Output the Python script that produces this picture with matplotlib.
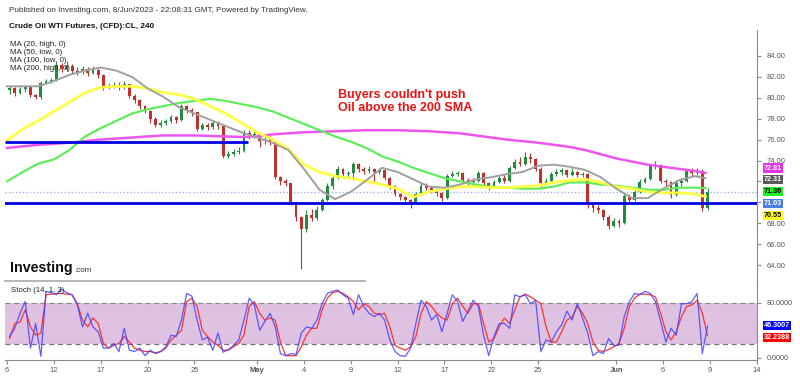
import matplotlib
matplotlib.use('Agg')
import matplotlib.pyplot as plt
import numpy as np
from matplotlib.transforms import blended_transform_factory

plt.rcParams['font.family'] = ['Liberation Sans', 'DejaVu Sans']

# ---------------- data ----------------
bars_per_day = 3
first_open = 80.7
closes = [
    80.9, 80.5, 80.8,  81.0, 80.3, 80.1,  81.4, 81.6, 81.7,  83.1, 82.8, 83.0,
    82.6, 82.5, 82.8,  82.4, 82.7, 82.2,  81.0, 81.1, 81.2,  81.0, 81.3, 80.2,
    79.8, 79.2, 78.7,  78.0, 77.4, 77.6,  77.8, 78.2, 77.9,  79.2, 78.8, 78.6,
    77.0, 77.4, 77.2,  77.6, 77.3, 74.4,  74.6, 74.8, 74.9,  76.6, 76.4, 76.5,
    75.9, 76.1, 75.8,  72.4, 72.0, 71.8,  70.0, 68.6, 67.4,  68.8, 68.5, 69.3,
    70.2, 71.6, 72.3,  73.2, 72.7, 72.8,  73.7, 73.2, 73.0,  73.2, 72.9, 73.1,
    72.3, 71.6, 70.8,  70.5, 70.2, 69.9,  70.8, 71.6, 71.4,  71.2, 70.9, 70.4,
    72.5, 72.7, 72.8,  72.1, 71.9, 72.0,  72.8, 71.8, 71.5,  71.9, 72.3, 72.0,
    73.3, 73.9, 73.7,  74.3, 74.1, 73.2,  71.8, 72.0, 72.7,  72.9, 73.1, 72.6,
    72.9, 72.6, 72.7,  69.8, 69.5, 69.3,  68.6, 67.7, 68.2,  68.0, 70.6, 70.2,
    71.0, 71.9, 72.2,  73.5, 73.6, 72.0,  71.9, 70.7, 71.8,  72.0, 73.0, 72.8,
    73.0, 69.5, 71.03]
highs = [
    81.1, 81.0, 81.0,  81.2, 81.0, 80.4,  81.6, 81.8, 81.9,  83.4, 83.3, 83.5,
    83.2, 82.9, 83.0,  82.9, 83.0, 82.8,  82.3, 81.4, 81.5,  81.5, 81.6, 81.3,
    80.4, 79.9, 79.3,  78.8, 78.2, 77.9,  78.0, 78.4, 78.3,  79.4, 79.3, 79.0,
    78.6, 77.6, 77.6,  77.9, 77.8, 77.4,  74.9, 75.1, 75.3,  76.9, 76.9, 76.8,
    76.5, 76.4, 76.3,  75.9, 72.5, 72.2,  71.8, 70.0, 68.7,  69.3, 69.4, 69.6,
    70.4, 71.8, 72.5,  73.5, 73.3, 73.0,  73.9, 73.8, 73.4,  73.5, 73.3, 73.3,
    73.2, 72.4, 71.7,  70.9, 70.6, 70.3,  71.0, 71.8, 71.8,  71.6, 71.4, 71.0,
    72.7, 73.0, 73.0,  72.9, 72.3, 72.3,  73.0, 72.9, 71.9,  72.1, 72.5, 72.6,
    73.5, 74.1, 74.3,  74.8, 74.7, 74.2,  73.4, 72.3, 72.9,  73.2, 73.3, 73.2,
    73.3, 73.0, 72.9,  72.8, 69.9, 69.7,  69.4, 68.8, 68.5,  68.4, 70.8, 70.8,
    71.2, 72.2, 72.4,  73.7, 74.0, 73.7,  72.2, 72.0, 72.1,  72.3, 73.2, 73.3,
    73.3, 73.2, 71.4]
lows = [
    80.4, 80.2, 80.4,  80.6, 80.1, 79.9,  79.9, 81.3, 81.4,  81.6, 82.5, 82.6,
    82.4, 82.2, 82.3,  82.1, 82.3, 81.9,  80.7, 80.8, 80.9,  80.7, 80.8, 80.0,
    79.5, 78.9, 78.5,  77.6, 77.2, 77.2,  77.4, 77.6, 77.6,  77.8, 78.5, 78.3,
    76.8, 76.9, 76.9,  77.0, 77.0, 74.2,  74.2, 74.4, 74.6,  74.8, 76.1, 76.2,
    75.3, 75.6, 75.5,  72.2, 71.7, 71.6,  69.7, 68.2, 63.6,  67.2, 68.2, 68.3,
    69.2, 70.1, 71.3,  72.2, 72.5, 72.4,  72.1, 72.9, 72.7,  72.8, 71.8, 72.7,
    72.1, 71.3, 70.6,  70.2, 70.0, 69.5,  69.8, 70.7, 71.2,  70.9, 70.6, 70.1,
    70.3, 72.4, 72.5,  71.9, 71.7, 71.7,  71.9, 71.6, 71.2,  71.4, 71.8, 71.8,
    71.9, 73.2, 73.5,  73.6, 73.8, 73.0,  71.5, 71.7, 71.9,  72.5, 72.6, 72.4,
    72.5, 72.4, 72.4,  69.5, 69.1, 69.0,  68.3, 67.4, 67.6,  67.6, 67.9, 70.0,
    70.1, 70.9, 71.8,  72.1, 73.2, 71.8,  71.6, 70.4, 70.6,  71.6, 71.9, 72.5,
    72.6, 69.2, 69.3]

ma_days = list(range(45)) + [44.7]
ma20 = [81.1, 81.1, 81.1, 81.6, 82.2, 82.6, 82.9, 82.6, 82.0, 80.9, 80.1, 79.1,
        78.5, 77.9, 77.3, 76.7, 76.2, 75.7, 75.0, 73.2, 71.2, 70.3, 71.0, 72.1,
        73.3, 72.9, 72.2, 71.5, 71.4, 71.7, 72.2, 72.4, 72.7, 72.9, 73.5, 73.6,
        73.4, 73.1, 72.4, 71.3, 70.4, 70.4, 71.3, 72.1, 72.5, 72.31]
ma50 = [75.9, 77.0, 77.8, 78.7, 79.6, 80.5, 81.0, 81.1, 81.1, 80.9, 80.5, 80.3,
        79.9, 79.2, 78.5, 77.6, 76.7, 76.0, 75.1, 73.6, 72.9, 72.5, 72.3, 72.0,
        71.7, 71.3, 70.5, 71.0, 71.3, 71.5, 71.5, 71.4, 71.4, 71.5, 71.6, 71.9,
        72.1, 72.2, 71.9, 71.5, 71.3, 71.0, 70.9, 70.9, 70.8, 70.55]
ma100 = [72.0, 72.9, 73.7, 74.1, 75.0, 76.3, 77.1, 77.8, 78.5, 78.9, 79.2, 79.5,
         79.7, 79.9, 79.7, 79.4, 79.1, 78.7, 78.1, 77.5, 76.9, 76.3, 75.8, 75.2,
         74.4, 73.9, 73.3, 72.8, 72.3, 72.0, 71.7, 71.5, 71.4, 71.3, 71.3, 71.5,
         71.9, 71.9, 71.7, 71.6, 71.4, 71.2, 71.2, 71.4, 71.4, 71.36]
ma200 = [75.2, 75.35, 75.5, 75.6, 75.7, 75.85, 76.0, 76.1, 76.2, 76.3, 76.4, 76.4,
         76.4, 76.35, 76.3, 76.25, 76.3, 76.5, 76.6, 76.7, 76.75, 76.8, 76.85, 76.9,
         76.9, 76.9, 76.85, 76.8, 76.7, 76.6, 76.4, 76.2, 76.0, 75.85, 75.7, 75.5,
         75.3, 75.0, 74.6, 74.2, 73.9, 73.6, 73.4, 73.2, 73.0, 72.81]

stoch_k = [31, 43, 65, 82, 14, 50, 2, 97, 95, 92, 100, 95, 92, 77, 45, 65, 45, 38,
           14, 14, 21, 9, 43, 11, 9, 14, 3, 11, 6, 9, 16, 33, 31, 55, 94, 90,
           55, 26, 30, 11, 36, 8, 12, 18, 26, 55, 87, 77, 40, 53, 65, 45, 6, 3,
           6, 5, 36, 45, 43, 55, 79, 94, 97, 99, 92, 87, 63, 92, 75, 65, 60, 65,
           55, 26, 9, 3, 2, 14, 50, 84, 75, 55, 63, 38, 65, 92, 82, 53, 68, 84,
           75, 33, 3, 31, 50, 50, 43, 92, 89, 92, 79, 84, 9, 26, 23, 38, 48, 68,
           55, 79, 58, 36, 3, 9, 6, 28, 18, 18, 60, 82, 94, 92, 97, 94, 82, 53,
           23, 43, 33, 79, 79, 82, 94, 6, 46.3007]
stoch_d = [28, 50, 52, 70, 45, 33, 36, 92, 93, 94, 94, 93, 92, 79, 55, 45, 58, 50,
           21, 14, 18, 21, 31, 23, 14, 11, 9, 9, 7, 9, 14, 26, 33, 40, 82, 87,
           75, 40, 31, 23, 18, 11, 11, 16, 21, 33, 75, 82, 65, 55, 58, 55, 23, 3,
           3, 3, 16, 33, 43, 43, 70, 87, 95, 97, 94, 89, 82, 70, 79, 75, 65, 63,
           65, 45, 18, 14, 11, 16, 31, 65, 82, 75, 65, 58, 55, 79, 87, 75, 65, 79,
           79, 50, 23, 28, 45, 58, 50, 70, 89, 93, 89, 84, 79, 45, 23, 23, 38, 55,
           60, 75, 65, 50, 23, 11, 9, 12, 16, 21, 43, 75, 87, 93, 93, 92, 89, 65,
           38, 26, 38, 60, 75, 77, 84, 65, 32.2388]

support_level = 69.9
resistance_level = 75.8
resistance_end_day = 15.4
last_price = 71.03

tick_days = [0, 3, 6, 9, 12, 16, 19, 22, 25, 28, 31, 34, 39, 42, 45, 48]
tick_labels = ['6', '12', '17', '20', '25', 'May', '4', '9', '12', '17', '22',
               '25', 'Jun', '6', '9', '14']
price_ticks = [64, 66, 68, 70, 72, 74, 76, 78, 80, 82, 84]
covered_ticks = [70, 72]   # hidden behind the value boxes in the reference

# ---------------- figure ----------------
W, H = 800, 376
fig = plt.figure(figsize=(W / 100, H / 100), dpi=100)
fig.patch.set_facecolor('white')

def fx(px):
    return px / W

def fy(py):
    return 1 - py / H

xlim = (-0.128, 48)
ax = fig.add_axes([fx(5), fy(283), fx(752), 253 / H])
ax2 = fig.add_axes([fx(5), fy(360), fx(752), 77 / H])

GREEN = '#238a3e'
RED = '#c0312c'
AXC = '#8a8a8a'
TXT = '#555555'

# candles
n = len(closes)
xb = np.arange(n) / bars_per_day + 0.5 / bars_per_day
o = np.array([first_open] + closes[:-1])
c = np.array(closes)
hi = np.maximum(np.array(highs), np.maximum(o, c))
lo = np.minimum(np.array(lows), np.minimum(o, c))
cols = [GREEN if cc >= oo else RED for oo, cc in zip(o, c)]
ax.vlines(xb, lo, hi, colors=cols, lw=0.8, zorder=2)
body = np.maximum(np.abs(c - o), 0.06)
ax.bar(xb, body, bottom=np.minimum(o, c), width=0.18, color=cols, lw=0, zorder=3)

# moving averages
ax.plot(ma_days, ma200, color='#ee55ee', lw=1.8, zorder=4)
ax.plot(ma_days, ma100, color='#55ee55', lw=1.5, zorder=4)
ax.plot(ma_days, ma50, color='#ffff44', lw=2.0, zorder=4)
ax.plot(ma_days, ma20, color='#a0a0a0', lw=1.4, zorder=4)

# horizontal lines
ax.axhline(last_price, color='#9db2e6', lw=1, ls=(0, (1, 1.5)), zorder=1)
ax.axhline(support_level, color='#0000e0', lw=2.0, zorder=5)
ax.plot([xlim[0], resistance_end_day], [resistance_level, resistance_level],
        color='#0000e0', lw=2.0, zorder=5, solid_capstyle='butt')

ax.set_xlim(*xlim)
ax.set_ylim(84 - (283 - 56) / 10.45, 84 + (56 - 30) / 10.45)
for s in ['top', 'left', 'bottom']:
    ax.spines[s].set_visible(False)
ax.spines['right'].set_color(AXC)
ax.set_xticks([])
ax.yaxis.tick_right()
ax.set_yticks(price_ticks)
ax.set_yticklabels(['' if p in covered_ticks else f'{p:.2f}' for p in price_ticks])
ax.tick_params(axis='y', colors=AXC, labelcolor=TXT, labelsize=5.4, length=3, pad=4)

# value labels on price axis
tr = blended_transform_factory(ax.transAxes, ax.transData)
price_labels = [
    (ma200[-1], '#e633e6', 'white'),
    (ma20[-1], '#5a5a5a', 'white'),
    (ma100[-1], '#22ee22', 'black'),
    (last_price, '#4a7ee0', 'white'),
    (ma50[-1], '#ffff22', 'black'),
]
label_px = [168, 179.8, 191.6, 203.4, 215.2]
for (val, bg, fg), py in zip(price_labels, label_px):
    yv = 84 - (py - 56) / 10.45
    ax.text(1.0 + 7 / 752, yv, f'{val:.2f}', transform=tr, fontsize=5.2,
            color=fg, fontweight='bold', va='center', ha='left', clip_on=False,
            bbox=dict(boxstyle='square,pad=0.15', fc=bg, ec='none'))

# stochastic panel
ax2.axhspan(20, 80, color='#dfc1e1', lw=0, zorder=0)
ax2.axhline(80, color='#8a8a8a', lw=0.9, ls=(0, (4, 3)), zorder=1)
ax2.axhline(20, color='#7a6a7a', lw=0.9, ls=(0, (4, 3)), zorder=1)
xs = np.arange(len(stoch_k)) / bars_per_day + 0.5 / bars_per_day
ax2.plot(xs, stoch_d, color='#ff3333', lw=0.9, zorder=3)
ax2.plot(xs, stoch_k, color='#4444ff', lw=0.9, zorder=3, alpha=0.85)
ax2.set_xlim(*xlim)
ax2.set_ylim((357.7 - 360) / 0.684, (357.7 - 283) / 0.684)
for s in ['top', 'left']:
    ax2.spines[s].set_visible(False)
ax2.spines['right'].set_color(AXC)
ax2.spines['bottom'].set_color(AXC)
ax2.yaxis.tick_right()
ax2.set_yticks([0, 80])
ax2.set_yticklabels(['0.0000', '80.0000'])
ax2.tick_params(axis='y', colors=AXC, labelcolor=TXT, labelsize=5.2, length=3, pad=4)
ax2.set_xticks(tick_days)
ax2.set_xticklabels(tick_labels)
ax2.tick_params(axis='x', colors=AXC, labelcolor=TXT, labelsize=5.4, length=3, pad=2)
for lab in ax2.get_xticklabels():
    if lab.get_text() in ('May', 'Jun'):
        lab.set_fontweight('bold')

tr2 = blended_transform_factory(ax2.transAxes, ax2.transData)
for val, bg, py in [(stoch_k[-1], '#0000ff', 325.5), (stoch_d[-1], '#ff0000', 337.5)]:
    yv = (357.7 - py) / 0.684
    ax2.text(1.0 + 7 / 752, yv, f'{val:.4f}', transform=tr2, fontsize=5.2,
             color='white', fontweight='bold', va='center', ha='left', clip_on=False,
             bbox=dict(boxstyle='square,pad=0.15', fc=bg, ec='none'))

ax2.text(0.008, (357.7 - 291) / 0.684, 'Stoch (14, 1, 3)', transform=tr2,
         fontsize=5.6, color='#222222', va='center', ha='left')

# texts
fig.text(fx(9), fy(10), 'Published on Investing.com, 8/Jun/2023 - 22:08:31 GMT, Powered by TradingView.',
         fontsize=5.9, color='#333333', va='center', ha='left')
fig.text(fx(9), fy(26), 'Crude Oil WTI Futures, (CFD):CL, 240', fontsize=5.9,
         fontweight='bold', color='#111111', va='center', ha='left')
for i, s in enumerate(['MA (20, high, 0)', 'MA (50, low, 0)', 'MA (100, low, 0)',
                       'MA (200, high, 0)']):
    fig.text(fx(10), fy(44 + 8.2 * i), s, fontsize=5.7, color='#222222',
             va='center', ha='left')

fig.text(fx(338), fy(101.5), "Buyers couldn't push\nOil above the 200 SMA",
         fontsize=9, fontweight='bold', color='#ee1111', va='center', ha='left',
         linespacing=1.15)

fig.text(fx(10), fy(268), 'Investing', fontsize=10.3, fontweight='bold',
         color='#111111', va='center', ha='left')
fig.text(fx(74), fy(270), '.com', fontsize=5.8, color='#333333',
         va='center', ha='left')
fig.add_artist(plt.Line2D([fx(5), fx(365)], [fy(281), fy(281)], color='#aaaaaa', lw=1.2))

fig.savefig('out.png', dpi=100, facecolor='white')
